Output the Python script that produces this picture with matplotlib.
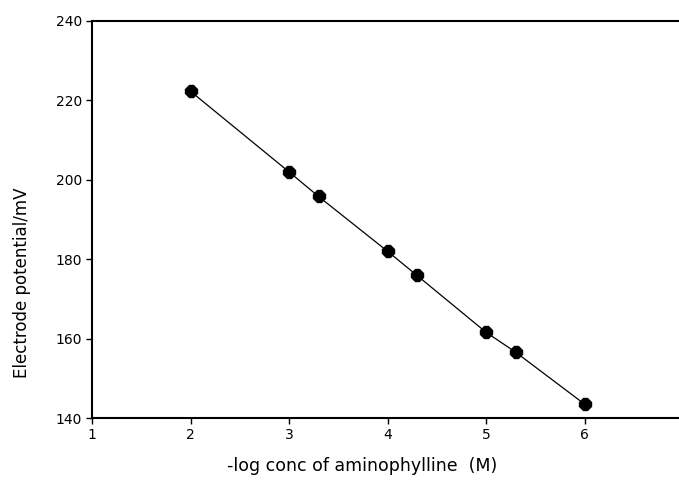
import matplotlib
matplotlib.use("Agg")
import matplotlib.pyplot as plt

# -log concentration of aminophylline (M) vs electrode potential (mV)
neg_log_conc = [2.0, 3.0, 3.3, 4.0, 4.3, 5.0, 5.3, 6.0]
potential_mv = [222.3, 202.0, 195.8, 182.0, 175.9, 161.6, 156.6, 143.5]

x_ticks = [1, 2, 3, 4, 5, 6, 7]
y_ticks = [140, 160, 180, 200, 220, 240]

plt.rcParams['font.family'] = ['DejaVu Sans']

fig = plt.figure(figsize=(6.79, 4.88), dpi=100)
W, H = 679, 488
left, right, top, bottom = 92, 683, 21, 418
ax = fig.add_axes([left / W, 1 - bottom / H, (right - left) / W, (bottom - top) / H])

ax.plot(neg_log_conc, potential_mv, color='black', linewidth=0.9,
        marker='8', markersize=9, markerfacecolor='black', markeredgecolor='black')

ax.set_xlim(1, 7)
ax.set_ylim(140, 240)
ax.set_xticks(x_ticks)
ax.set_yticks(y_ticks)
ax.tick_params(direction='out', length=4, width=1, labelsize=10, colors='black', pad=3)

for side in ['left', 'bottom', 'top', 'right']:
    ax.spines[side].set_linewidth(1.5)
    ax.spines[side].set_color('black')

fig.text(22 / W, 1 - 283 / H, 'Electrode potential/mV', rotation=90,
         ha='center', va='center', fontsize=12)
fig.text(362 / W, 1 - 466 / H, '-log conc of aminophylline  (M)',
         ha='center', va='center', fontsize=12.5)

fig.savefig('out.png', dpi=100)
